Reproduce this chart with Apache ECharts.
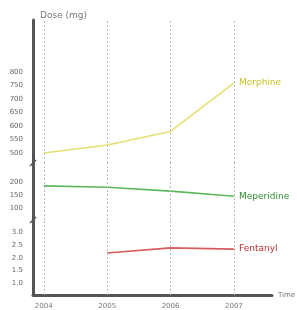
<!DOCTYPE html>
<html><head><meta charset="utf-8">
<script src="https://cdn.jsdelivr.net/npm/echarts@6/dist/echarts.min.js"></script>
<style>html,body{margin:0;padding:0;background:#fff}#c{width:297px;height:310px}</style>
</head><body><div id="c"></div>
<script>
var categories = ['2004', '2005', '2006', '2007'];
var morphine = [500, 530, 580, 760];
var meperidine = [185, 180, 165, 145];
var fentanyl = [null, 2.2, 2.4, 2.35];
var morphineTicks = [500, 550, 600, 650, 700, 750, 800];
var meperidineTicks = [100, 150, 200];
var fentanylTicks = [1.0, 1.5, 2.0, 2.5, 3.0];

var G = [{top: 20, h: 143}, {top: 163, h: 57}, {top: 220, h: 77}];
var LEFT = 33, WIDTH = 239;
var ranges = [[463, 993], [54, 273], [0.54, 3.5]];
var tickSets = [morphineTicks, meperidineTicks, fentanylTicks];
var names = ['Morphine', 'Meperidine', 'Fentanyl'];
var dataSets = [morphine, meperidine, fentanyl];
var lineColors = ['#e4e070', '#5cb85c', '#d85c5c'];
var labelColors = ['#c8c228', '#2f8f2f', '#b83030'];

function pts(arr){ return arr.map(function(v,i){ return [i, v]; }); }
var catIdx = categories.map(function(c,i){ return i; });

var grids = [], xAxes = [], yAxes = [], series = [];
for (var g = 0; g < 3; g++) {
  grids.push({left: LEFT, width: WIDTH, top: G[g].top, height: G[g].h});
  xAxes.push({
    type: 'value', gridIndex: g, min: -0.17, max: 3.6,
    show: g === 2,
    name: g === 2 ? 'Time' : '', nameLocation: 'end', nameGap: 6,
    nameTextStyle: {color: '#777', fontSize: 7, fontFamily: 'DejaVu Sans', verticalAlign: 'middle'},
    axisLine: {show: true, onZero: false, lineStyle: {color: '#555', width: 3}},
    axisTick: {show: false, customValues: catIdx},
    splitLine: {show: false},
    axisLabel: {show: true, customValues: catIdx, margin: 8, color: '#777', fontSize: 7,
      fontFamily: 'DejaVu Sans', formatter: function(v){ return categories[Math.round(v)]; }}
  });
  (function(gi){
    yAxes.push({
      type: 'value', gridIndex: gi, min: ranges[gi][0], max: ranges[gi][1],
      axisLine: {show: true, onZero: false, lineStyle: {color: '#555', width: 3}},
      axisTick: {show: false},
      splitLine: {show: false},
      axisLabel: {customValues: tickSets[gi], margin: 10, color: '#666', fontSize: 7,
        fontFamily: 'DejaVu Sans',
        formatter: function(v){ return gi === 2 ? Number(v).toFixed(1) : String(v); }}
    });
  })(g);
  series.push({
    type: 'line', name: names[g], xAxisIndex: g, yAxisIndex: g,
    data: pts(dataSets[g]), symbol: 'none', connectNulls: false,
    lineStyle: {color: lineColors[g], width: 1.6},
    endLabel: {show: true, formatter: names[g], color: labelColors[g], fontSize: 9,
      fontFamily: 'DejaVu Sans', distance: 5},
    markLine: {
      silent: true, symbol: 'none', label: {show: false},
      lineStyle: {color: '#b8b8b8', type: [2, 2], width: 1},
      data: catIdx.map(function(i){ return {xAxis: i}; })
    }
  });
}

var breakMarks = [];
[G[1].top, G[2].top].forEach(function(y){
  breakMarks.push({type: 'line', shape: {x1: LEFT - 3, y1: y + 3, x2: LEFT + 3, y2: y - 3},
    style: {stroke: '#555', lineWidth: 1.5}, z: 100});
});

var chart = echarts.init(document.getElementById('c'), null, {renderer: 'canvas'});
chart.setOption({
  animation: false,
  title: {text: 'Dose (mg)', left: 35, top: 6,
    textStyle: {color: '#777', fontSize: 9, fontWeight: 'normal', fontFamily: 'DejaVu Sans'}},
  grid: grids, xAxis: xAxes, yAxis: yAxes, series: series,
  graphic: breakMarks
});
</script></body></html>
